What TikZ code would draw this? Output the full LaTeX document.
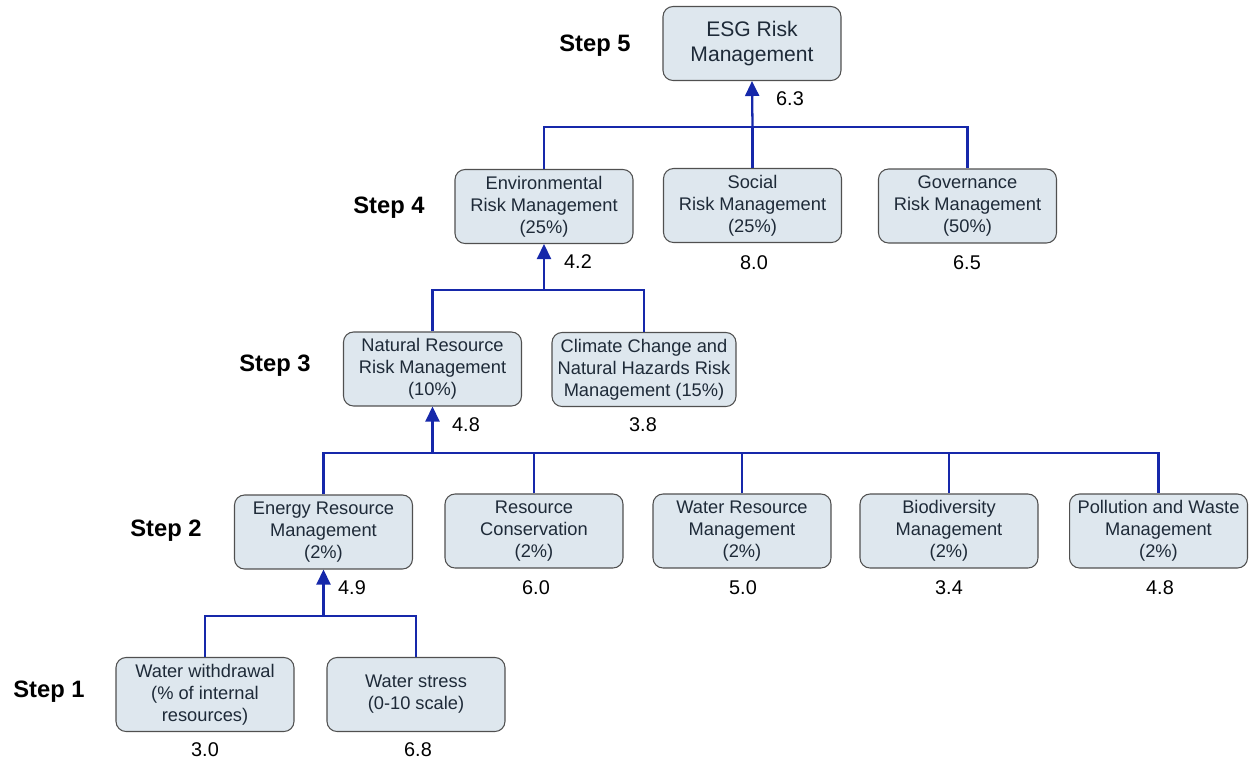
\documentclass[tikz,border=0pt]{standalone}
\usepackage{fontspec}
\setmainfont{Liberation Sans}
\usetikzlibrary{arrows.meta}
\definecolor{boxfill}{RGB}{222,231,238}
\definecolor{boxline}{RGB}{80,80,80}
\definecolor{boxtext}{RGB}{30,42,56}
\definecolor{linkblue}{RGB}{22,40,170}
\begin{document}
\begin{tikzpicture}[x=0.02cm, y=-0.02cm,
    box/.style={draw=boxline, line width=0.6pt, fill=boxfill, rounded corners=0.2cm,
      minimum width=3.56cm, minimum height=1.48cm, align=center, text=boxtext,
      inner sep=1pt, font=\fontsize{10.4}{12.5}\selectfont},
    val/.style={font=\fontsize{11.3}{13}\selectfont},
    steplabel/.style={font=\bfseries\fontsize{13.5}{16}\selectfont},
    link/.style={draw=linkblue, line width=1.3pt},
    arr/.style={link, -{Triangle[length=0.3cm, width=0.28cm]}}]
    \useasboundingbox (0,0) rectangle (1255,761);

    \node[steplabel] (s5) at (595,46) {Step 5};
    \node[box, font=\fontsize{12}{14.5}\selectfont] (esg) at (752,43.5) {ESG Risk\\Management};
    \node[val] (v63) at (790,99) {6.3};

    \node[steplabel] (s4) at (389,208) {Step 4};
    \node[box] (env) at (544,206.5) {Environmental\\Risk Management\\(25\%)};
    \node[box] (soc) at (752.5,205.5) {Social\\Risk Management\\(25\%)};
    \node[box] (gov) at (967.5,206) {Governance\\Risk Management\\(50\%)};
    \node[val] (v42) at (578,262) {4.2};
    \node[val] (v80) at (754,263) {8.0};
    \node[val] (v65) at (967,263) {6.5};

    \node[steplabel] (s3) at (275,366) {Step 3};
    \node[box] (nat) at (432.5,369) {Natural Resource\\Risk Management\\(10\%)};
    \node[box, minimum width=3.68cm] (clim) at (644,369.5) {Climate Change and\\Natural Hazards Risk\\Management (15\%)};
    \node[val] (v48a) at (466,425) {4.8};
    \node[val] (v38) at (643,425) {3.8};

    \node[steplabel] (s2) at (166,531) {Step 2};
    \node[box] (nrg) at (323.5,532) {Energy Resource\\Management\\(2\%)};
    \node[box] (rcon) at (534,531) {Resource\\Conservation\\(2\%)};
    \node[box] (wres) at (742,531) {Water Resource\\Management\\(2\%)};
    \node[box] (bio) at (949,531) {Biodiversity\\Management\\(2\%)};
    \node[box] (poll) at (1158.5,531) {Pollution and Waste\\Management\\(2\%)};
    \node[val] (v49) at (352,588) {4.9};
    \node[val] (v60) at (536,588) {6.0};
    \node[val] (v50) at (743,588) {5.0};
    \node[val] (v34) at (949,588) {3.4};
    \node[val] (v48b) at (1160,588) {4.8};

    \node[steplabel] (s1) at (49,692) {Step 1};
    \node[box] (wwd) at (205,694.5) {Water withdrawal\\(\% of internal\\resources)};
    \node[box] (wst) at (416,694.5) {Water stress\\(0-10 scale)};
    \node[val] (v30) at (205,750) {3.0};
    \node[val] (v68) at (418,750) {6.8};

    \coordinate (j5) at (752.5,127);
    \coordinate (j4) at (544,290);
    \coordinate (j3) at (432.5,453);
    \coordinate (j2) at (323.5,616);

    \draw[link] (env.north) |- (j5) -| (gov.north);
    \draw[link] (soc.north) -- (j5);
    \draw[arr] (j5) -- (esg.south);

    \draw[link] (nat.north) |- (j4) -| (clim.north);
    \draw[arr] (j4) -- (env.south);

    \draw[link] (nrg.north) |- (j3) -| (poll.north);
    \draw[link] (rcon.north) -- (rcon.north |- j3);
    \draw[link] (wres.north) -- (wres.north |- j3);
    \draw[link] (bio.north) -- (bio.north |- j3);
    \draw[arr] (j3) -- (nat.south);

    \draw[link] (wwd.north) |- (j2) -| (wst.north);
    \draw[arr] (j2) -- (nrg.south);
\end{tikzpicture}
\end{document}
